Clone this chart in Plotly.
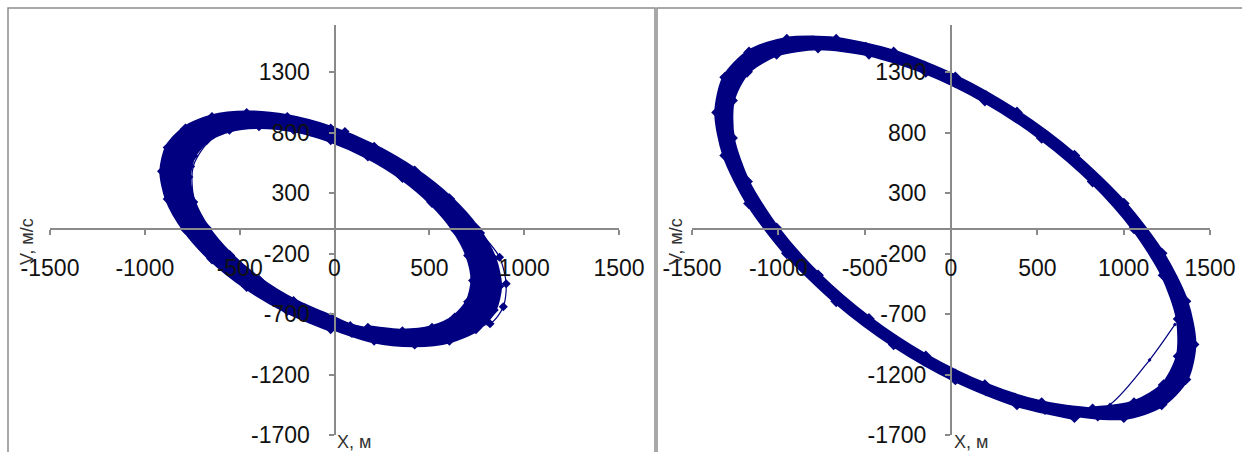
import plotly.graph_objects as go

# ---------------- data ----------------
# Left panel (X, м ; V, м/с)
left_start_x = [55, 250, 450, 640, 770, 870, 905, 890, 820, 623, 290, -20]
left_start_v = [810, 640, 420, 160, -30, -230, -450, -640, -780, -790, -860, -818]

left_loop_x = [-20, -249, -463, -646, -786, -875, -905, -875, -786, -646, -463, -249, -20, 209, 423, 606, 746, 835, 865, 835, 746, 606, 423, 209,
               -132, -347, -541, -698, -810, -867, -867, -810, -698, -541, -347, -132, 92, 307, 501, 658, 770, 827, 827, 770, 658, 501, 307, 92,
               -20, -232, -430, -600, -730, -812, -840, -812, -730, -600, -430, -232, -20, 192, 390, 560, 690, 772, 800, 772, 690, 560, 390, 192,
               -123, -323, -501, -646, -750, -803, -803, -750, -646, -501, -323, -123, 83, 283, 461, 606, 710, 763, 763, 710, 606, 461, 283, 83,
               -20, -216, -398, -554, -674, -749, -775, -749, -674, -554, -398, -216, -20, 176, 358, 514, 634, 709, 735, 709, 634, 514, 358, 176]
left_loop_v = [-818, -667, -470, -241, 5, 251, 480, 677, 828, 923, 955, 923, 828, 677, 480, 251, 5, -241, -470, -667, -818, -913, -945, -913,
               -729, -558, -349, -116, 126, 359, 568, 739, 860, 922, 922, 860, 739, 568, 359, 126, -116, -349, -558, -729, -850, -912, -912, -850,
               -774, -631, -445, -228, 5, 238, 455, 641, 784, 874, 905, 874, 784, 641, 455, 238, 5, -228, -445, -631, -774, -864, -895, -864,
               -691, -530, -331, -110, 120, 341, 540, 701, 816, 875, 875, 816, 701, 540, 341, 120, -110, -331, -530, -691, -806, -865, -865, -806,
               -735, -599, -423, -216, 5, 226, 433, 609, 745, 831, 860, 831, 745, 609, 433, 226, 5, -216, -423, -599, -735, -821, -850, -821]

left_end_x = [176, -20, -300, -560, -730, -745, -640, -450]
left_end_v = [-821, -735, -540, -220, 180, 520, 760, 860]

# Right panel
right_start_x = [1297, 1150, 921, 715]
right_start_v = [-786, -1080, -1448, -1553]

right_loop_x = [715, 382, 25, -332, -665, -951, -1170, -1308, -1355, -1308, -1170, -951, -665, -332, 25, 382, 715, 1001, 1220, 1358, 1405, 1358, 1220, 1001,
                544, 203, -153, -494, -800, -1050, -1227, -1318, -1318, -1227, -1050, -800, -494, -153, 203, 544, 850, 1100, 1277, 1368, 1368, 1277, 1100, 850,
                690, 369, 25, -319, -640, -915, -1127, -1260, -1305, -1260, -1127, -915, -640, -319, 25, 369, 690, 965, 1177, 1310, 1355, 1310, 1177, 965,
                525, 196, -146, -475, -770, -1010, -1181, -1268, -1268, -1181, -1010, -770, -475, -146, 196, 525, 820, 1060, 1231, 1318, 1318, 1231, 1060, 820]
right_loop_v = [-1553, -1447, -1241, -951, -595, -198, 214, 611, 967, 1257, 1463, 1569, 1569, 1463, 1257, 967, 611, 214, -198, -595, -951, -1241, -1447, -1553,
                -1487, -1333, -1086, -766, -393, 8, 409, 782, 1102, 1349, 1503, 1556, 1503, 1349, 1102, 782, 409, 8, -393, -766, -1086, -1333, -1487, -1540,
                -1500, -1398, -1199, -919, -575, -191, 207, 591, 935, 1215, 1414, 1516, 1516, 1414, 1215, 935, 591, 207, -191, -575, -919, -1199, -1398, -1500,
                -1436, -1287, -1049, -740, -379, 8, 395, 756, 1065, 1303, 1452, 1503, 1452, 1303, 1065, 756, 395, 8, -379, -740, -1049, -1287, -1436, -1487]

right_end_x = [820, 678, 363, 25, -313, -527, -1048, -1240, -1290]
right_end_v = [-1487, -1470, -1372, -1176, -900, -720, 80, 500, 900]

x_ticks = [-1500, -1000, -500, 0, 500, 1000, 1500]
y_ticks = [1300, 800, 300, -200, -700, -1200, -1700]
x_title = "X, м"
y_title = "V, м/с"

# ---------------- layout helpers ----------------
W, H = 1242, 452
def px(x):
    return x / W
def py(y):
    return 1 - y / H

NAVY = "#000080"
AXIS = "#8a8a8a"
TICKFONT = dict(family="Liberation Sans, Arial, sans-serif", size=23, color="#111111")
TITLEFONT = dict(family="Liberation Sans, Arial, sans-serif", size=18, color="#333333")
Y_RANGE = [-1700, 1690]
y_dom = [py(435), py(25)]
x_pos = y_dom[0] + (0 - Y_RANGE[0]) / (Y_RANGE[1] - Y_RANGE[0]) * (y_dom[1] - y_dom[0])

fig = go.Figure()

def add_series(x, y, xa, ya, width, msize):
    fig.add_trace(go.Scatter(x=x, y=y, mode="lines+markers", xaxis=xa, yaxis=ya,
                             line=dict(color=NAVY, width=width, shape="spline", smoothing=0.8),
                             marker=dict(symbol="diamond", size=msize, color=NAVY),
                             showlegend=False, hoverinfo="skip"))

add_series(left_loop_x, left_loop_v, "x", "y", 7, 9)
add_series(left_start_x, left_start_v, "x", "y", 1.2, 7)
add_series(left_end_x, left_end_v, "x", "y", 1.2, 3)
add_series(right_loop_x, right_loop_v, "x2", "y2", 5.5, 9)
add_series(right_start_x, right_start_v, "x2", "y2", 1.2, 3)
add_series(right_end_x, right_end_v, "x2", "y2", 1.2, 3)

def xaxis(dom):
    return dict(domain=dom, range=[-1500, 1500], anchor="free", position=x_pos,
                tickvals=x_ticks, ticktext=[str(v) for v in x_ticks],
                showline=True, linecolor=AXIS, linewidth=2, ticks="outside", ticklen=5,
                tickwidth=1.5, tickcolor=AXIS, showgrid=False, zeroline=False,
                tickfont=TICKFONT, ticklabelstandoff=13, fixedrange=True, automargin=False)

def yaxis(pos):
    return dict(domain=y_dom, range=Y_RANGE, anchor="free", position=pos,
                tickvals=y_ticks, ticktext=[str(v) for v in y_ticks],
                showline=True, linecolor=AXIS, linewidth=2, ticks="outside", ticklen=5,
                tickwidth=1.5, tickcolor=AXIS, showgrid=False, zeroline=False,
                tickfont=TICKFONT, ticklabelstandoff=14, fixedrange=True, automargin=False)

left_zero_px = 50 + (619 - 50) / 2
right_zero_px = 692 + (1210 - 692) / 2

fig.update_layout(
    width=W, height=H, margin=dict(l=0, r=0, t=0, b=0, autoexpand=False),
    paper_bgcolor="white", plot_bgcolor="rgba(0,0,0,0)",
    xaxis=xaxis([px(50), px(619)]),
    yaxis=yaxis(px(left_zero_px)),
    xaxis2=xaxis([px(692), px(1210)]),
    yaxis2=yaxis(px(right_zero_px)),
    shapes=[
        dict(type="rect", xref="paper", yref="paper", x0=px(8), x1=px(655), y0=-0.2, y1=py(8),
             line=dict(color="#8c8c8c", width=1.5), layer="below"),
        dict(type="rect", xref="paper", yref="paper", x0=px(657), x1=1.2, y0=-0.2, y1=py(8),
             line=dict(color="#8c8c8c", width=1.5), layer="below"),
    ],
    annotations=[
        dict(text=y_title, xref="paper", yref="paper", x=px(27), y=py(242), textangle=-90,
             xanchor="center", yanchor="middle", showarrow=False, font=TITLEFONT),
        dict(text=y_title, xref="paper", yref="paper", x=px(676), y=py(242), textangle=-90,
             xanchor="center", yanchor="middle", showarrow=False, font=TITLEFONT),
        dict(text=x_title, xref="paper", yref="paper", x=px(335), y=py(442), xanchor="left",
             yanchor="middle", showarrow=False, font=TITLEFONT),
        dict(text=x_title, xref="paper", yref="paper", x=px(952), y=py(442), xanchor="left",
             yanchor="middle", showarrow=False, font=TITLEFONT),
    ],
)

fig.write_html("out.html", config={"displayModeBar": False},
               post_script="document.body.style.margin='0';document.body.style.overflow='hidden';")
